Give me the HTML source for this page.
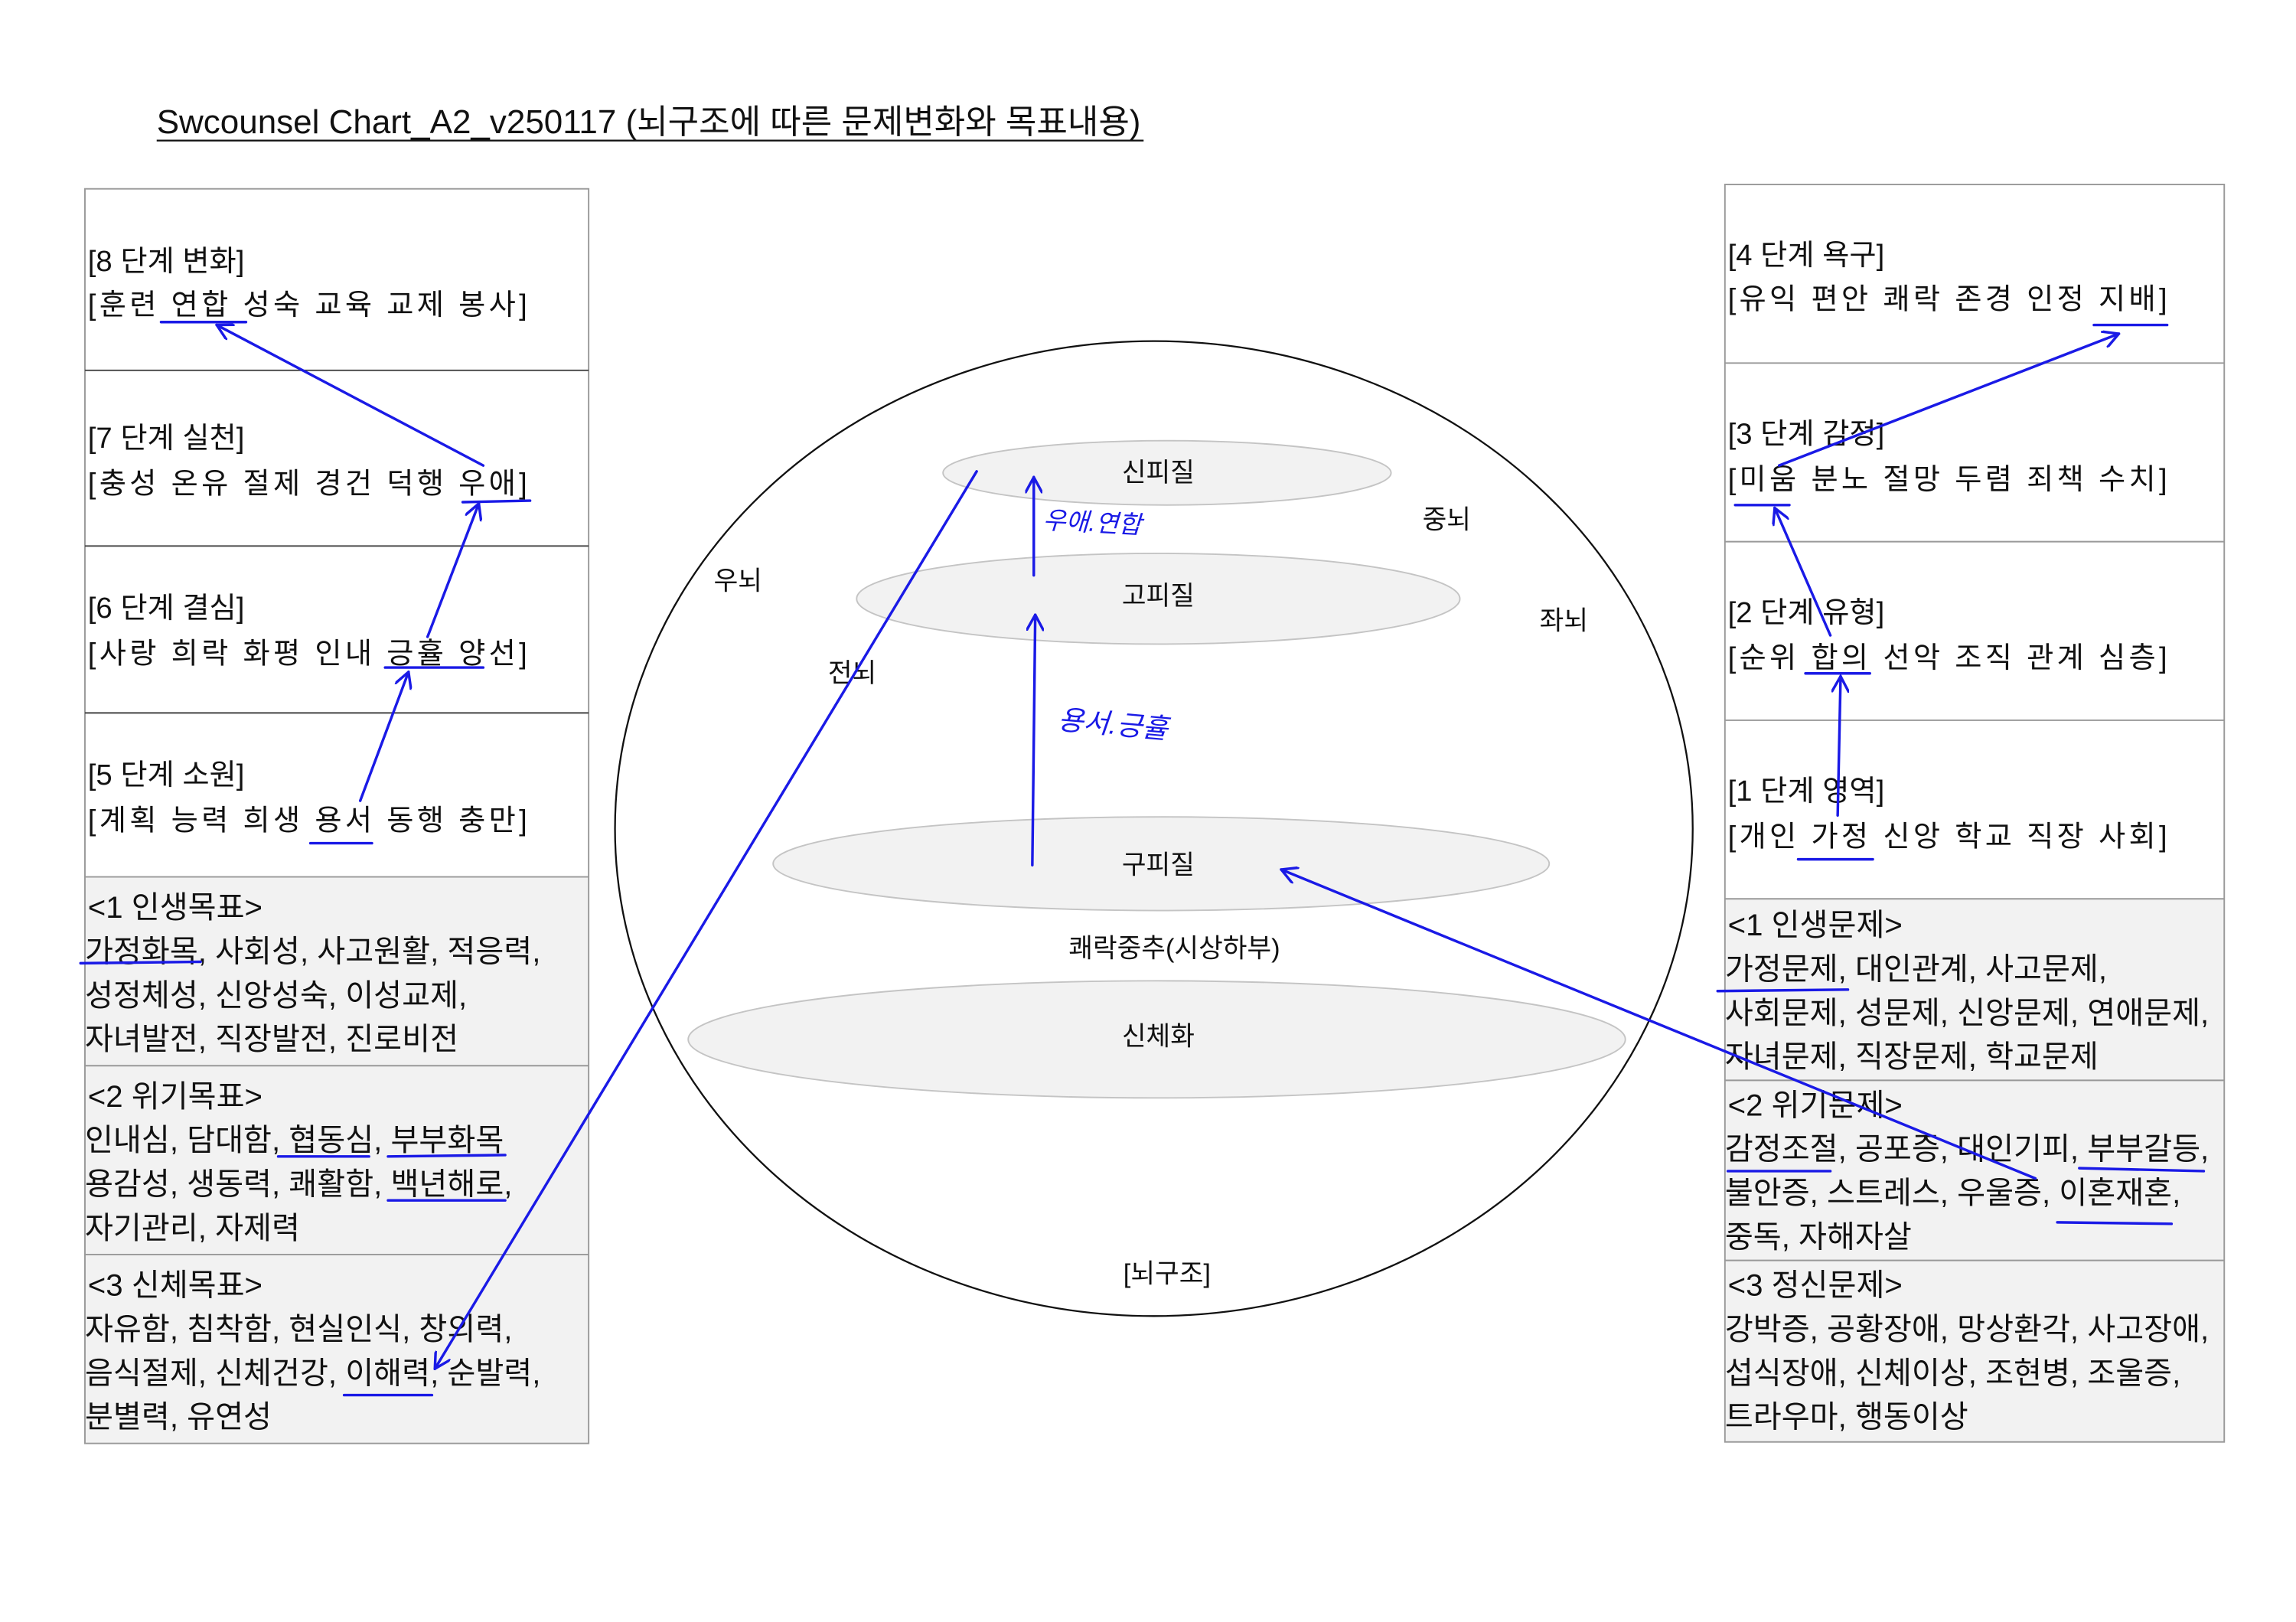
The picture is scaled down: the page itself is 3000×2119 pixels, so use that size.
<!DOCTYPE html>
<html><head><meta charset="utf-8">
<style>
html,body{margin:0;padding:0;background:#fff;}
svg{display:block;}
text{font-family:"Liberation Sans","Noto Sans CJK KR","NanumGothic",sans-serif;fill:#111;}
.t{font-size:20px;}
.g{font-size:21px;}
.b{stroke:#1a1ae6;stroke-width:1.8;fill:none;stroke-linecap:round;}
</style></head>
<body>
<svg width="3000" height="2119" viewBox="0 0 1568 1108" preserveAspectRatio="none" xmlns="http://www.w3.org/2000/svg">
<defs>
<marker id="ah" viewBox="0 0 12 12" refX="11" refY="6" markerWidth="12" markerHeight="12" markerUnits="userSpaceOnUse" orient="auto">
<path d="M0,0 L11,6 L0,12" fill="none" stroke="#1a1ae6" stroke-width="1.8"/>
</marker>
</defs>
<rect width="1568" height="1108" fill="#fff"/>
<text x="107" y="91" style="font-size:23px" textLength="672" lengthAdjust="spacingAndGlyphs">Swcounsel Chart_A2_v250117 (뇌구조에 따른 문제변화와 목표내용)</text>
<line x1="107" y1="96" x2="781" y2="96" stroke="#111" stroke-width="1.2"/>

<rect x="58" y="599" width="344" height="387" fill="#f2f2f2"/>
<rect x="58" y="129" width="344" height="857" fill="none" stroke="#999" stroke-width="1"/>
<g stroke="#444" stroke-width="1"><line x1="58" y1="253" x2="402" y2="253"/><line x1="58" y1="373" x2="402" y2="373"/><line x1="58" y1="487" x2="402" y2="487"/></g>
<g stroke="#999" stroke-width="1"><line x1="58" y1="599" x2="402" y2="599"/><line x1="58" y1="728" x2="402" y2="728"/><line x1="58" y1="857" x2="402" y2="857"/></g>
<g class="t">
<text x="60" y="185">[8 단계 변화]</text>
<text x="60" y="215" textLength="300" lengthAdjust="spacing">[훈련 연합 성숙 교육 교제 봉사]</text>
<text x="60" y="306">[7 단계 실천]</text>
<text x="60" y="337" textLength="300" lengthAdjust="spacing">[충성 온유 절제 경건 덕행 우애]</text>
<text x="60" y="422">[6 단계 결심]</text>
<text x="60" y="453" textLength="300" lengthAdjust="spacing">[사랑 희락 화평 인내 긍휼 양선]</text>
<text x="60" y="536">[5 단계 소원]</text>
<text x="60" y="567" textLength="300" lengthAdjust="spacing">[계획 능력 희생 용서 동행 충만]</text>
</g>
<g class="g">
<text x="60" y="627">&lt;1 인생목표&gt;</text>
<text x="58" y="657">가정화목, 사회성, 사고원활, 적응력,</text>
<text x="58" y="687">성정체성, 신앙성숙, 이성교제,</text>
<text x="58" y="717">자녀발전, 직장발전, 진로비전</text>
<text x="60" y="756">&lt;2 위기목표&gt;</text>
<text x="58" y="786">인내심, 담대함, 협동심, 부부화목</text>
<text x="58" y="816">용감성, 생동력, 쾌활함, 백년해로,</text>
<text x="58" y="846">자기관리, 자제력</text>
<text x="60" y="885">&lt;3 신체목표&gt;</text>
<text x="58" y="915">자유함, 침착함, 현실인식, 창의력,</text>
<text x="58" y="945">음식절제, 신체건강, 이해력, 순발력,</text>
<text x="58" y="975">분별력, 유연성</text>
</g>

<rect x="1178" y="614" width="341" height="371" fill="#f2f2f2"/>
<rect x="1178" y="126" width="341" height="859" fill="none" stroke="#999" stroke-width="1"/>
<g stroke="#999" stroke-width="1"><line x1="1178" y1="248" x2="1519" y2="248"/><line x1="1178" y1="370" x2="1519" y2="370"/><line x1="1178" y1="492" x2="1519" y2="492"/><line x1="1178" y1="614" x2="1519" y2="614"/><line x1="1178" y1="738" x2="1519" y2="738"/><line x1="1178" y1="861" x2="1519" y2="861"/></g>
<g class="t">
<text x="1180" y="181">[4 단계 욕구]</text>
<text x="1180" y="211" textLength="300" lengthAdjust="spacing">[유익 편안 쾌락 존경 인정 지배]</text>
<text x="1180" y="303">[3 단계 감정]</text>
<text x="1180" y="334" textLength="300" lengthAdjust="spacing">[미움 분노 절망 두렴 죄책 수치]</text>
<text x="1180" y="425">[2 단계 유형]</text>
<text x="1180" y="456" textLength="300" lengthAdjust="spacing">[순위 합의 선악 조직 관계 심층]</text>
<text x="1180" y="547">[1 단계 영역]</text>
<text x="1180" y="578" textLength="300" lengthAdjust="spacing">[개인 가정 신앙 학교 직장 사회]</text>
</g>
<g class="g">
<text x="1180" y="639">&lt;1 인생문제&gt;</text>
<text x="1178" y="669">가정문제, 대인관계, 사고문제,</text>
<text x="1178" y="699">사회문제, 성문제, 신앙문제, 연애문제,</text>
<text x="1178" y="729">자녀문제, 직장문제, 학교문제</text>
<text x="1180" y="762">&lt;2 위기문제&gt;</text>
<text x="1178" y="792">감정조절, 공포증, 대인기피, 부부갈등,</text>
<text x="1178" y="822">불안증, 스트레스, 우울증, 이혼재혼,</text>
<text x="1178" y="852">중독, 자해자살</text>
<text x="1180" y="885">&lt;3 정신문제&gt;</text>
<text x="1178" y="915">강박증, 공황장애, 망상환각, 사고장애,</text>
<text x="1178" y="945">섭식장애, 신체이상, 조현병, 조울증,</text>
<text x="1178" y="975">트라우마, 행동이상</text>
</g>

<ellipse cx="788" cy="566" rx="368" ry="333" fill="none" stroke="#111" stroke-width="1.2"/>
<g fill="#f2f2f2" stroke="#c4c4c4" stroke-width="1">
<ellipse cx="797" cy="323" rx="153" ry="22"/>
<ellipse cx="791" cy="409" rx="206" ry="31"/>
<ellipse cx="793" cy="590" rx="265" ry="32"/>
<ellipse cx="790" cy="710" rx="320" ry="40"/>
</g>
<g style="font-size:18px" text-anchor="middle">
<text x="791" y="329">신피질</text>
<text x="791" y="413">고피질</text>
<text x="791" y="597">구피질</text>
<text x="791" y="714">신체화</text>
<text x="802" y="654">쾌락중추(시상하부)</text>
<text x="797" y="876">[뇌구조]</text>
<text x="504" y="403">우뇌</text>
<text x="582" y="466">전뇌</text>
<text x="988" y="361">중뇌</text>
<text x="1068" y="430">좌뇌</text>
</g>

<g class="b">
<line x1="110" y1="220" x2="168" y2="220"/>
<line x1="330" y1="318" x2="148" y2="222" marker-end="url(#ah)"/>
<line x1="316" y1="343" x2="362" y2="342"/>
<line x1="292" y1="435" x2="327" y2="344" marker-end="url(#ah)"/>
<line x1="263" y1="456" x2="330" y2="456"/>
<line x1="246" y1="547" x2="279" y2="459" marker-end="url(#ah)"/>
<line x1="212" y1="576" x2="254" y2="576"/>
<line x1="55" y1="658" x2="137" y2="657"/>
<line x1="190" y1="790" x2="252" y2="790"/>
<line x1="265" y1="790" x2="345" y2="789"/>
<line x1="265" y1="820" x2="345" y2="820"/>
<line x1="235" y1="953" x2="295" y2="953"/>
<line x1="667" y1="322" x2="297" y2="935" marker-end="url(#ah)"/>
<line x1="706" y1="393" x2="706" y2="326" marker-end="url(#ah)"/>
<line x1="705" y1="591" x2="707" y2="420" marker-end="url(#ah)"/>
<line x1="1430" y1="222" x2="1480" y2="222"/>
<line x1="1215" y1="318" x2="1447" y2="228" marker-end="url(#ah)"/>
<line x1="1185" y1="345" x2="1222" y2="345"/>
<line x1="1250" y1="434" x2="1212" y2="347" marker-end="url(#ah)"/>
<line x1="1233" y1="460" x2="1277" y2="460"/>
<line x1="1255" y1="557" x2="1257" y2="462" marker-end="url(#ah)"/>
<line x1="1228" y1="587" x2="1279" y2="587"/>
<line x1="1173" y1="677" x2="1262" y2="676"/>
<line x1="1180" y1="800" x2="1250" y2="800"/>
<line x1="1420" y1="798" x2="1505" y2="800"/>
<line x1="1405" y1="835" x2="1483" y2="836"/>
<line x1="1390" y1="805" x2="875" y2="594" marker-end="url(#ah)"/>
</g>
<text x="712" y="361" style="font-size:17px;fill:#1a1ae6;font-style:italic" transform="rotate(3 712 361)">우애.연합</text>
<text x="722" y="498" style="font-size:19px;fill:#1a1ae6;font-style:italic" transform="rotate(5 722 498)">용서.긍휼</text>
</svg>
</body></html>
